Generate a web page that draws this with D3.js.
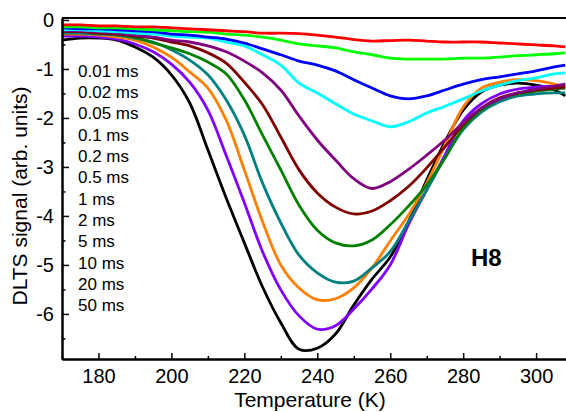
<!DOCTYPE html>
<html>
<head>
<meta charset="utf-8">
<script src="https://cdn.jsdelivr.net/npm/d3@7"></script>
<style>
    body { margin: 0; background: #fff; }
    svg { display: block; }
    text { font-family: Arial, "Liberation Sans", sans-serif; fill: #000; }
</style>
</head>
<body>
<div class="diagram"></div>
<script>
// Temperatures the spectra were read at (K)
const temps = [170, 175, 180, 185, 190, 195, 200, 205, 210, 215, 220, 225, 230, 235,
               240, 245, 250, 255, 260, 265, 270, 275, 280, 285, 290, 295, 300, 305, 308];

// Rate window labels shown at the left of the plot
const windowLabels = ['0.01 ms', '0.02 ms', '0.05 ms', '0.1 ms', '0.2 ms', '0.5 ms',
                      '1 ms', '2 ms', '5 ms', '10 ms', '20 ms', '50 ms'];

// DLTS signal of each spectrum (arb. units), one value per temperature
const redSignal = [-0.10, -0.10, -0.12, -0.12, -0.14, -0.14, -0.16, -0.18, -0.20, -0.22, -0.24, -0.27, -0.27, -0.28,
                   -0.31, -0.35, -0.40, -0.43, -0.42, -0.41, -0.43, -0.45, -0.45, -0.45, -0.47, -0.49, -0.51, -0.53, -0.55];
const limeSignal = [-0.14, -0.14, -0.16, -0.16, -0.18, -0.20, -0.22, -0.24, -0.25, -0.29, -0.31, -0.35, -0.41, -0.49,
                    -0.53, -0.57, -0.65, -0.71, -0.78, -0.80, -0.80, -0.80, -0.78, -0.78, -0.76, -0.73, -0.71, -0.69, -0.67];
const blueSignal = [-0.16, -0.18, -0.18, -0.20, -0.22, -0.24, -0.29, -0.31, -0.35, -0.39, -0.47, -0.59, -0.71, -0.84,
                    -0.92, -1.04, -1.22, -1.39, -1.55, -1.61, -1.55, -1.43, -1.31, -1.22, -1.16, -1.10, -1.04, -0.96, -0.92];
const cyanSignal = [-0.20, -0.20, -0.22, -0.24, -0.27, -0.29, -0.33, -0.35, -0.37, -0.45, -0.53, -0.71, -0.92, -1.29,
                    -1.49, -1.71, -1.92, -2.06, -2.18, -2.08, -1.90, -1.76, -1.61, -1.45, -1.33, -1.24, -1.18, -1.10, -1.08];
const purpleSignal = [-0.22, -0.22, -0.24, -0.27, -0.31, -0.35, -0.41, -0.45, -0.53, -0.65, -0.84, -1.08, -1.43, -1.96,
                      -2.45, -2.86, -3.24, -3.44, -3.30, -3.05, -2.76, -2.45, -2.10, -1.80, -1.61, -1.49, -1.41, -1.35, -1.31];
const maroonSignal = [-0.24, -0.24, -0.27, -0.29, -0.33, -0.37, -0.45, -0.53, -0.67, -0.88, -1.27, -1.73, -2.39, -3.06,
                      -3.53, -3.82, -3.96, -3.90, -3.69, -3.40, -3.02, -2.59, -2.14, -1.80, -1.59, -1.49, -1.43, -1.39, -1.37];
const greenSignal = [-0.24, -0.24, -0.27, -0.29, -0.35, -0.47, -0.57, -0.69, -0.86, -1.10, -1.63, -2.35, -3.06, -3.78,
                     -4.29, -4.55, -4.61, -4.49, -4.18, -3.80, -3.37, -2.82, -2.20, -1.84, -1.61, -1.51, -1.45, -1.41, -1.39];
const tealSignal = [-0.27, -0.27, -0.29, -0.31, -0.37, -0.45, -0.61, -0.82, -1.12, -1.63, -2.35, -3.33, -4.14, -4.80,
                    -5.16, -5.35, -5.33, -5.06, -4.73, -4.12, -3.47, -2.82, -2.24, -1.88, -1.67, -1.55, -1.51, -1.49, -1.49];
const orangeSignal = [-0.29, -0.29, -0.31, -0.35, -0.41, -0.55, -0.76, -1.06, -1.39, -2.04, -3.06, -4.12, -5.00, -5.47,
                      -5.71, -5.69, -5.47, -5.06, -4.51, -3.98, -3.33, -2.55, -1.78, -1.39, -1.27, -1.22, -1.24, -1.31, -1.37];
const violetSignal = [-0.33, -0.33, -0.35, -0.39, -0.49, -0.65, -0.90, -1.27, -1.84, -2.76, -3.73, -4.73, -5.51, -6.04,
                      -6.31, -6.24, -5.90, -5.49, -5.00, -4.18, -3.47, -2.76, -2.06, -1.71, -1.51, -1.41, -1.37, -1.35, -1.33];
const blackSignal = [-0.41, -0.37, -0.37, -0.41, -0.55, -0.76, -1.12, -1.69, -2.65, -3.63, -4.55, -5.45, -6.18, -6.72,
                     -6.70, -6.41, -5.82, -5.29, -4.84, -4.12, -3.27, -2.49, -1.84, -1.47, -1.33, -1.29, -1.33, -1.43, -1.55];

// Curves in drawing order (deepest first so the shallow ones sit on top)
const series = [blackSignal, violetSignal, orangeSignal, tealSignal, greenSignal, maroonSignal,
                purpleSignal, cyanSignal, blueSignal, limeSignal, redSignal];
const seriesColors = ['#000000', '#8000ff', '#ff8000', '#008080', '#008000', '#800000',
                      '#800080', '#00ffff', '#0000ff', '#00ff00', '#ff0000'];

// Ticks
const xMajorTicks = [180, 200, 220, 240, 260, 280, 300];
const xMinorTicks = [170, 190, 210, 230, 250, 270, 290];
const yMajorTicks = [0, -1, -2, -3, -4, -5, -6];
const yMinorTicks = [-0.5, -1.5, -2.5, -3.5, -4.5, -5.5, -6.5];

// Size of the canvas
var width = 566;
var height = 412;
var padding = {left: 62, right: 0, top: 18, bottom: 53};

var svg = d3.select(".diagram")
    .append("svg")
    .attr("width", width)
    .attr("height", height);

var xScale = d3.scaleLinear()
    .domain([170, 308.2])
    .range([padding.left, width - padding.right]);

var yScale = d3.scaleLinear()
    .domain([-6.92, 0.04])
    .range([height - padding.bottom, padding.top]);

// Clip the curves to the plot frame
svg.append("clipPath")
    .attr("id", "plotClip")
    .append("rect")
    .attr("x", padding.left)
    .attr("y", padding.top)
    .attr("width", width - padding.left - padding.right)
    .attr("height", height - padding.top - padding.bottom);

var line = d3.line()
    .x(function(d, i) { return xScale(temps[i]); })
    .y(function(d) { return yScale(d); })
    .curve(d3.curveCatmullRom.alpha(0.5));

svg.append("g")
    .attr("clip-path", "url(#plotClip)")
    .selectAll("path")
    .data(series)
    .enter()
    .append("path")
    .attr("d", line)
    .attr("fill", "none")
    .attr("stroke", function(d, i) { return seriesColors[i]; })
    .attr("stroke-width", 2.8)
    .attr("stroke-linejoin", "round");

// Axes, ticks pointing inwards
var bottom = height - padding.bottom;

svg.append("g")
    .attr("class", "axis")
    .attr("transform", "translate(0," + bottom + ")")
    .call(d3.axisBottom(xScale).tickValues(xMajorTicks).tickSizeInner(-6).tickSizeOuter(0).tickPadding(10));

svg.append("g")
    .attr("class", "axis minor")
    .attr("transform", "translate(0," + bottom + ")")
    .call(d3.axisBottom(xScale).tickValues(xMinorTicks).tickSizeInner(-3).tickSizeOuter(0).tickFormat(""));

svg.append("g")
    .attr("class", "axis")
    .attr("transform", "translate(" + padding.left + ",0)")
    .call(d3.axisLeft(yScale).tickValues(yMajorTicks).tickSizeInner(-7).tickSizeOuter(0).tickPadding(8)
        .tickFormat(function(d) { return String(d); }));

svg.append("g")
    .attr("class", "axis minor")
    .attr("transform", "translate(" + padding.left + ",0)")
    .call(d3.axisLeft(yScale).tickValues(yMinorTicks).tickSizeInner(-3.5).tickSizeOuter(0).tickFormat(""));

svg.selectAll(".axis path").attr("stroke", "#000").attr("stroke-width", 2);
svg.selectAll(".axis line").attr("stroke", "#000").attr("stroke-width", 1.5);
svg.selectAll(".axis text")
    .attr("font-size", 20)
    .attr("font-family", "Arial, 'Liberation Sans', sans-serif")
    .attr("fill", "#000");

// Top edge of the frame
svg.append("line")
    .attr("x1", padding.left)
    .attr("x2", width)
    .attr("y1", padding.top)
    .attr("y2", padding.top)
    .attr("stroke", "#000")
    .attr("stroke-width", 2);

// Rate window labels
svg.selectAll(".windowLabel")
    .data(windowLabels)
    .enter()
    .append("text")
    .attr("class", "windowLabel")
    .attr("x", 78)
    .attr("y", function(d, i) { return 76.8 + i * 21.3; })
    .attr("font-size", 17)
    .text(function(d) { return d; });

// Peak name
svg.append("text")
    .attr("x", 471)
    .attr("y", 266)
    .attr("font-size", 24)
    .attr("font-weight", "bold")
    .text("H8");

// Axis titles
svg.append("text")
    .attr("x", 310)
    .attr("y", 407)
    .attr("text-anchor", "middle")
    .attr("font-size", 21)
    .text("Temperature (K)");

svg.append("text")
    .attr("transform", "translate(27,196) rotate(-90)")
    .attr("text-anchor", "middle")
    .attr("font-size", 21)
    .text("DLTS signal (arb. units)");
</script>
</body>
</html>
